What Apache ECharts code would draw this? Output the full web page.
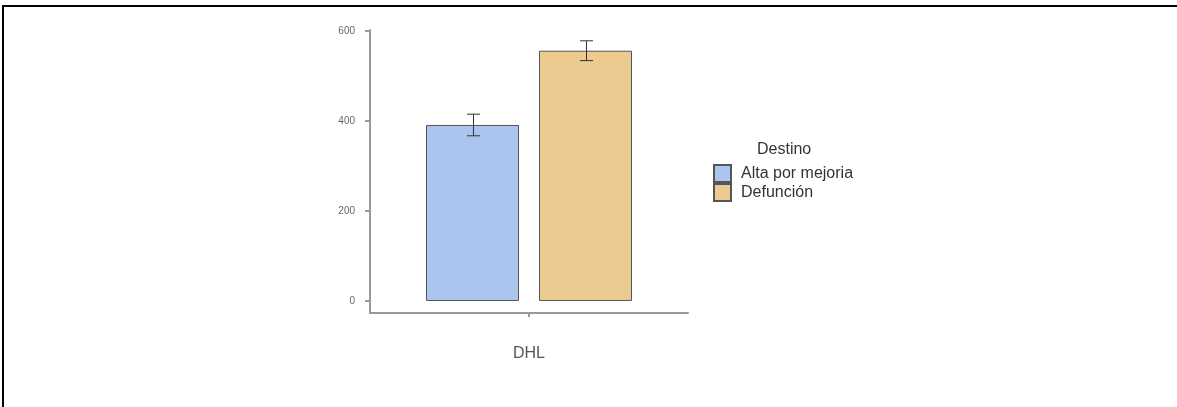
<!DOCTYPE html>
<html>
<head>
<meta charset="utf-8">
<script src="https://cdn.jsdelivr.net/npm/echarts@6/dist/echarts.min.js"></script>
<style>
  html, body { margin: 0; padding: 0; background: #ffffff; }
  #chart { width: 1177px; height: 407px; }
</style>
</head>
<body>
<div id="chart"></div>
<script>
// Mean DHL by outcome group, with error bar limits
const categories = ['DHL'];
const groups = ['Alta por mejoria', 'Defunción'];
const means = [391, 556];
const errLow = [367, 534];
const errHigh = [415, 578];
const yTicks = [0, 200, 400, 600];

const fills = ['#AAC6EE', '#EBCB8F'];
const barWidth = 93;
const barGapPx = 20;
const font = '"Liberation Sans", Arial, sans-serif';

const chart = echarts.init(document.getElementById('chart'), null, { renderer: 'canvas' });

const barSeries = groups.map((name, i) => ({
  name: name,
  type: 'bar',
  data: [means[i]],
  barWidth: barWidth,
  barGap: (barGapPx / barWidth * 100) + '%',
  itemStyle: { color: fills[i], borderColor: '#555555', borderWidth: 1 },
  emphasis: { disabled: true },
  z: 2
}));

// Error bars drawn on top of each bar, shifted to the bar centres
const errorSeries = {
  type: 'custom',
  silent: true,
  z: 5,
  data: groups.map((g, i) => [0, errLow[i], errHigh[i], i]),
  renderItem: function (params, api) {
    const idx = api.value(3);
    const shift = (idx - (groups.length - 1) / 2) * (barWidth + barGapPx);
    const lo = api.coord([api.value(0), api.value(1)]);
    const hi = api.coord([api.value(0), api.value(2)]);
    const x = Math.round(lo[0] + shift) + 0.5;
    const half = 6.5;
    const style = { stroke: '#333333', lineWidth: 1 };
    return {
      type: 'group',
      children: [
        { type: 'line', shape: { x1: x, y1: hi[1], x2: x, y2: lo[1] }, style: style },
        { type: 'line', shape: { x1: x - half, y1: hi[1], x2: x + half, y2: hi[1] }, style: style },
        { type: 'line', shape: { x1: x - half, y1: lo[1], x2: x + half, y2: lo[1] }, style: style }
      ]
    };
  }
};

chart.setOption({
  animation: false,
  backgroundColor: '#ffffff',
  title: {
    text: 'Destino',
    left: 757,
    top: 142,
    padding: 0,
    textStyle: { fontFamily: font, fontSize: 16, fontWeight: 'normal', color: '#333333' }
  },
  legend: {
    orient: 'vertical',
    left: 713,
    top: 164,
    padding: 0,
    itemWidth: 17,
    itemHeight: 17,
    itemGap: 0,
    icon: 'rect',
    selectedMode: false,
    data: groups,
    textStyle: { fontFamily: font, fontSize: 16, color: '#333333', padding: [0, 0, 0, 5], lineHeight: 18 }
  },
  grid: { left: 370, right: 489, top: 30, bottom: 94, containLabel: false },
  xAxis: {
    type: 'category',
    data: categories,
    boundaryGap: true,
    axisLine: { onZero: false, lineStyle: { color: '#999999', width: 2 } },
    axisTick: { show: true, interval: 0, alignWithLabel: true, length: 4, lineStyle: { color: '#999999', width: 2 } },
    axisLabel: { margin: 33, interval: 0, fontFamily: font, fontSize: 16, color: '#555555' }
  },
  yAxis: {
    type: 'value',
    min: -26.7,
    max: 602,
    splitLine: { show: false },
    axisLine: { show: true, lineStyle: { color: '#999999', width: 2 } },
    axisTick: { show: true, length: 5, customValues: yTicks, lineStyle: { color: '#999999', width: 2 } },
    axisLabel: { margin: 15, customValues: yTicks, fontFamily: font, fontSize: 10, color: '#666666' }
  },
  graphic: [
    { type: 'line', shape: { x1: 2, y1: 6, x2: 1177, y2: 6 }, style: { stroke: '#000000', lineWidth: 2 } },
    { type: 'line', shape: { x1: 3, y1: 5, x2: 3, y2: 407 }, style: { stroke: '#000000', lineWidth: 2 } }
  ],
  series: barSeries.concat([errorSeries])
});
</script>
</body>
</html>
